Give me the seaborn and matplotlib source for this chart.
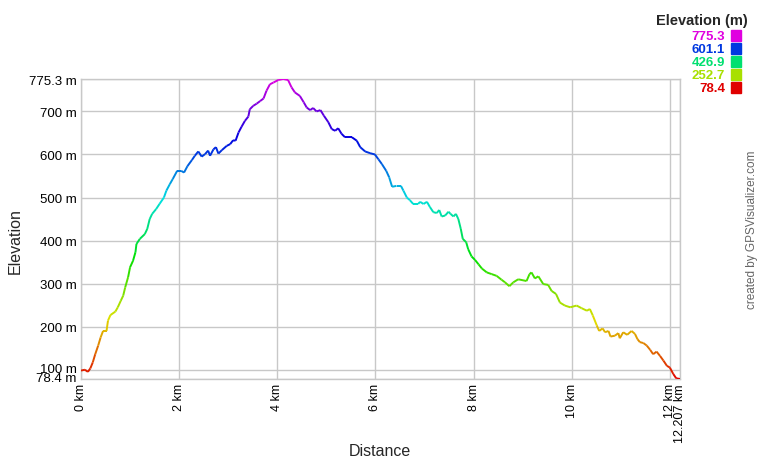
import colorsys
import numpy as np
import matplotlib
matplotlib.use("Agg")
import matplotlib.pyplot as plt
import matplotlib.transforms as mtransforms
from matplotlib.collections import LineCollection
import seaborn as sns

# Profile
distance_km = [
    0.00, 0.08, 0.14, 0.19, 0.24, 0.29, 0.35, 0.40, 0.45, 0.52, 0.55, 0.60,
    0.70, 0.75, 0.81, 0.86, 0.90, 0.96, 1.00, 1.06, 1.11, 1.13, 1.20, 1.30,
    1.35, 1.40, 1.45, 1.53, 1.60, 1.69, 1.74, 1.81, 1.87, 1.96, 2.04, 2.10,
    2.17, 2.26, 2.32, 2.39, 2.46, 2.53, 2.59, 2.63, 2.70, 2.75, 2.80, 2.87,
    2.97, 3.04, 3.10, 3.15, 3.21, 3.27, 3.34, 3.41, 3.44, 3.51, 3.58, 3.65,
    3.72, 3.78, 3.85, 3.92, 4.02, 4.12, 4.22, 4.29, 4.36, 4.46, 4.54, 4.60,
    4.67, 4.73, 4.80, 4.88, 4.95, 5.04, 5.11, 5.18, 5.24, 5.31, 5.38, 5.52,
    5.62, 5.69, 5.79, 5.89, 5.99, 6.06, 6.13, 6.22, 6.28, 6.34, 6.43, 6.52,
    6.57, 6.64, 6.70, 6.77, 6.87, 6.91, 6.98, 7.05, 7.11, 7.18, 7.25, 7.30,
    7.35, 7.42, 7.49, 7.53, 7.59, 7.64, 7.69, 7.74, 7.78, 7.85, 7.89, 7.96,
    8.03, 8.10, 8.17, 8.27, 8.37, 8.47, 8.57, 8.64, 8.73, 8.81, 8.91, 9.08,
    9.14, 9.18, 9.25, 9.32, 9.42, 9.52, 9.59, 9.68, 9.76, 9.86, 9.97, 10.10,
    10.20, 10.31, 10.37, 10.43, 10.51, 10.56, 10.63, 10.68, 10.75, 10.79, 10.88, 10.95,
    10.98, 11.05, 11.13, 11.22, 11.29, 11.34, 11.39, 11.46, 11.53, 11.60, 11.66, 11.73,
    11.80, 11.87, 11.94, 12.00, 12.07, 12.13, 12.207,
]
elevation_m = [
    98, 100, 95, 103, 117, 136, 156, 175, 190, 190, 214, 227,
    235, 245, 260, 272, 291, 315, 338, 353, 373, 392, 404, 415,
    427, 450, 462, 473, 485, 500, 516, 531, 543, 562, 562, 558,
    573, 587, 597, 607, 595, 601, 609, 597, 612, 617, 602, 610,
    620, 624, 633, 632, 651, 664, 678, 688, 705, 713, 718, 724,
    730, 748, 763, 767, 773, 775.3, 773, 756, 744, 736, 721, 709,
    703, 708, 700, 703, 690, 675, 659, 655, 661, 648, 640, 640,
    632, 617, 607, 603, 600, 589, 578, 562, 547, 525, 527, 527,
    516, 500, 494, 485, 485, 490, 485, 490, 478, 466, 464, 471,
    456, 458, 467, 462, 456, 462, 450, 427, 404, 396, 380, 363,
    355, 345, 335, 326, 322, 318, 309, 303, 294, 303, 310, 306,
    322, 326, 312, 317, 299, 297, 283, 276, 256, 249, 245, 249,
    243, 237, 241, 226, 203, 190, 196, 187, 190, 177, 179, 185,
    173, 187, 181, 190, 183, 171, 164, 162, 156, 146, 136, 142,
    132, 121, 109, 105, 90, 80, 78.4,
]

elev_min = 78.4
elev_max = 775.3
legend_values = [775.3, 601.1, 426.9, 252.7, 78.4]
y_ticks = [78.4, 100, 200, 300, 400, 500, 600, 700, 775.3]
y_labels = ["78.4 m", "100 m", "200 m", "300 m", "400 m", "500 m", "600 m", "700 m", "775.3 m"]
x_ticks = [0, 2, 4, 6, 8, 10, 12, 12.207]
x_labels = ["0 km", "2 km", "4 km", "6 km", "8 km", "10 km", "12 km", "12.207 km"]


def elev_color(e):
    # red at the lowest point, running through the hues to magenta at the top
    h = (e - elev_min) / (elev_max - elev_min) * 300 / 360
    return colorsys.hsv_to_rgb(h, 1.0, 0.88)


sns.set_style("white")
plt.rcParams["font.family"] = ["Liberation Sans", "DejaVu Sans"]

fig = plt.figure(figsize=(7.6, 4.6), dpi=100)
ax = fig.add_axes([81 / 760, 80 / 460, 599 / 760, 300 / 460])

x = np.array(distance_km)
y = np.array(elevation_m)
pts = np.column_stack([x, y]).reshape(-1, 1, 2)
segs = np.concatenate([pts[:-1], pts[1:]], axis=1)
cols = [elev_color((a + b) / 2) for a, b in zip(y[:-1], y[1:])]
ax.add_collection(LineCollection(segs, colors=cols, linewidths=1.4, zorder=3))

ax.set_xlim(0, 12.207)
ax.set_ylim(elev_min, elev_max)
ax.set_xticks(x_ticks)
ax.set_xticklabels(x_labels, rotation=90, fontsize=9)
ax.set_yticks(y_ticks)
ax.set_yticklabels(y_labels, fontsize=9.5)
ax.tick_params(length=0, pad=3, colors="#000000")
ax.grid(True, color="#c8c8c8", linewidth=1)
for s in ax.spines.values():
    s.set_color("#c8c8c8")
    s.set_linewidth(1)

# the two lowest labels sit close together, nudge them up a little
ylabs = ax.get_yticklabels()
ylabs[0].set_transform(ylabs[0].get_transform() + mtransforms.ScaledTranslation(0, 2 / 100, fig.dpi_scale_trans))
ylabs[1].set_transform(ylabs[1].get_transform() + mtransforms.ScaledTranslation(0, 2.5 / 100, fig.dpi_scale_trans))

ax.set_xlabel("Distance", fontsize=11.5, va="center")
ax.set_ylabel("Elevation", fontsize=11.5, va="center")
ax.xaxis.set_label_coords(0.499, (380 - 452) / 300)
ax.yaxis.set_label_coords((15 - 81) / 599, (380 - 241) / 300)

# legend box in the top right corner
fig.text(748 / 760, 1 - 21 / 460, "Elevation (m)", ha="right", va="center",
         fontsize=10.5, fontweight="bold")
for i, v in enumerate(legend_values):
    yy = 1 - (36.5 + i * 13.1) / 460
    c = elev_color(v)
    fig.text(725 / 760, yy, f"{v:.1f}", ha="right", va="center",
             fontsize=9.5, fontweight="bold", color=c)
    fig.patches.append(plt.Rectangle((730.5 / 760, yy - 5 / 460), 10.5 / 760, 10.5 / 460,
                                     transform=fig.transFigure, color=c))

fig.text(752 / 760, 230 / 460, "created by GPSVisualizer.com", rotation=90,
         ha="center", va="center", fontsize=8.5, color="#666666")

fig.savefig("out.png", dpi=100)
